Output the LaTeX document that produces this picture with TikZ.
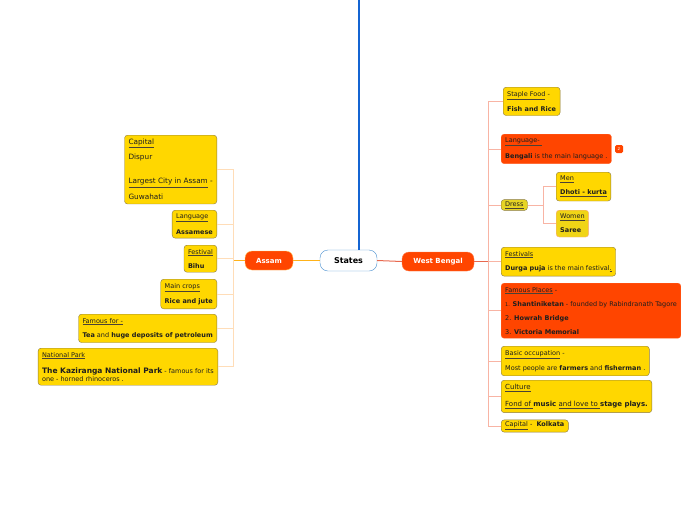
\documentclass[tikz,border=0pt]{standalone}
\usepackage{fontspec}
\setmainfont{DejaVu Sans}
\usepackage{tikz}
\usetikzlibrary{positioning}
\definecolor{leafyellow}{HTML}{FFD700}
\definecolor{dressyellow}{HTML}{E6D424}
\definecolor{hotred}{HTML}{FF4500}
\definecolor{leafedge}{HTML}{8A7A46}
\definecolor{inktext}{HTML}{1E1E1E}
\definecolor{inkline}{HTML}{4A4236}
\definecolor{rootblue}{HTML}{1464D2}
\definecolor{rootedge}{HTML}{4A90D0}
\definecolor{assamorange}{HTML}{FFB219}
\definecolor{assamtwig}{HTML}{FFDDB8}
\definecolor{bengalred}{HTML}{E8684E}
\definecolor{bengaltwig}{HTML}{F8B4A4}
\tikzset{
  leaf/.style={rounded corners=3pt, draw=leafedge, fill=leafyellow, align=left, text=inktext,
    inner xsep=4pt, inner ysep=4pt, font=\fontsize{6.5}{8}\selectfont},
  hotleaf/.style={leaf, draw=hotred!85!white, fill=hotred},
  topic/.style={rounded corners=7pt, fill=hotred, text=white, minimum height=19pt,
    font=\fontsize{7}{8}\selectfont\bfseries},
  assamline/.style={draw=assamorange, line width=1pt},
  assamstub/.style={draw=assamtwig, line width=0.6pt},
  bengalline/.style={draw=bengalred, line width=1pt},
  bengalstub/.style={draw=bengaltwig, line width=0.6pt}
}
\newcommand{\ul}[1]{{\color{inkline}\underline{\color{inktext}#1}}}
\newcommand{\bigb}[1]{{\fontsize{7.5}{8}\selectfont\bfseries #1}}
\begin{document}
\begin{tikzpicture}[x=1pt,y=-1pt]
  \useasboundingbox (0,0) rectangle (696,520);

  \node[rounded corners=8pt, draw=rootedge, fill=white, minimum width=57pt, minimum height=21pt,
    font=\fontsize{8}{9}\selectfont\bfseries] (states) at (348.5,260.5) {States};
  \node[topic, draw=assamorange!70!white, minimum width=48pt] (assam) at (269,260.5) {Assam};
  \node[topic, draw=hotred!70!white, minimum width=72pt] (bengal) at (438,261.5) {West Bengal};

  \coordinate (top) at (359,0);
  \draw[draw=rootblue, line width=1.2pt] (top) -- (top |- states.north);
  \draw[assamline] (states.west) -- (assam.east);
  \draw[bengalline] (states.east) -- (bengal.west);

  \node[leaf, anchor=north east, font=\fontsize{7.3}{8}\selectfont] (acapital) at (217,135)
    {\ul{Capital}\\[5pt] Dispur\\[16pt] \ul{Largest City in Assam} -\\[6pt] Guwahati};
  \node[leaf, anchor=north east] (alanguage) at (217,210) {\ul{Language}\\[6pt] \textbf{Assamese}};
  \node[leaf, anchor=north east] (afestival) at (217,245) {\ul{Festival}\\[6pt] \textbf{Bihu}};
  \node[leaf, anchor=north east] (acrops) at (217,279) {\ul{Main crops}\\[6pt] \textbf{Rice and jute}};
  \node[leaf, anchor=north east] (afamous) at (217,314)
    {\ul{Famous for -}\\[6pt] \textbf{Tea} and \textbf{huge deposits of petroleum}};
  \node[leaf, anchor=north east] (apark) at (218,348)
    {\ul{National Park}\\[8pt] \bigb{The Kaziranga National Park} - famous for its\\ one - horned rhinoceros .};

  \coordinate (ajoint) at (233,260.5);
  \draw[assamline] (assam.west) -- (ajoint);
  \foreach \n in {acapital,alanguage,afestival,acrops,afamous,apark}
    \draw[assamstub] (ajoint) |- (\n.east);

  \node[leaf, anchor=north west] (bstaple) at (503,87) {\ul{Staple Food} -\\[6pt] \textbf{Fish and Rice}};
  \node[hotleaf, anchor=north west] (blanguage) at (501,134)
    {\ul{Language- }\\[6pt] \textbf{Bengali} is the main language .};
  \node[rounded corners=1.5pt, fill=hotred, text=white, minimum size=8pt, inner sep=0pt,
    font=\fontsize{4}{4}\selectfont] (bcount) at (619,149) {2};
  \node[leaf, fill=dressyellow, anchor=west, inner ysep=2pt] (bdress) at (501,205) {\ul{Dress}};
  \node[leaf, anchor=north west] (bmen) at (556,172) {\ul{Men}\\[6pt] \textbf{\ul{Dhoti - kurta}}};
  \node[leaf, fill=dressyellow!60!leafyellow, draw=bengaltwig!80!orange, anchor=north west] (bwomen) at (556,210)
    {\ul{Women}\\[6pt] \textbf{Saree}};
  \node[leaf, anchor=north west] (bfestival) at (501,247)
    {\ul{Festivals}\\[6pt] \textbf{Durga puja} is the main festival\ul{ .}};
  \node[hotleaf, anchor=north west] (bplaces) at (501,283)
    {\ul{Famous Places} -\\[6pt] {\fontsize{5}{8}\selectfont 1.} \textbf{Shantiniketan} - founded by Rabindranath Tagore\\[6pt]
     2. \textbf{Howrah Bridge}\\[6pt] 3. \textbf{Victoria Memorial}};
  \node[leaf, anchor=north west] (bjob) at (501,346)
    {\ul{Basic occupation} -\\[6pt] Most people are \textbf{farmers} and \textbf{fisherman} .};
  \node[leaf, anchor=north west, font=\fontsize{7}{8}\selectfont] (bculture) at (501,380)
    {\ul{Culture}\\[9pt] \ul{Fond of }\textbf{music} \ul{and love to }\textbf{stage plays.}};
  \node[leaf, anchor=west, inner ysep=2pt] (bcapital) at (501,426) {\ul{Capital} - \ \textbf{Kolkata}};

  \coordinate (bjoint) at (488,261.5);
  \draw[bengalline] (bengal.east) -- (bjoint);
  \foreach \n in {bstaple,blanguage,bdress,bfestival,bplaces,bjob,bculture,bcapital}
    \draw[bengalstub] (bjoint) |- (\n.west);
  \coordinate (djoint) at (543,205);
  \draw[bengalstub] (bdress.east) -- (djoint);
  \draw[bengalstub] (djoint) |- (bmen.west);
  \draw[bengalstub] (djoint) |- (bwomen.west);
\end{tikzpicture}
\end{document}
